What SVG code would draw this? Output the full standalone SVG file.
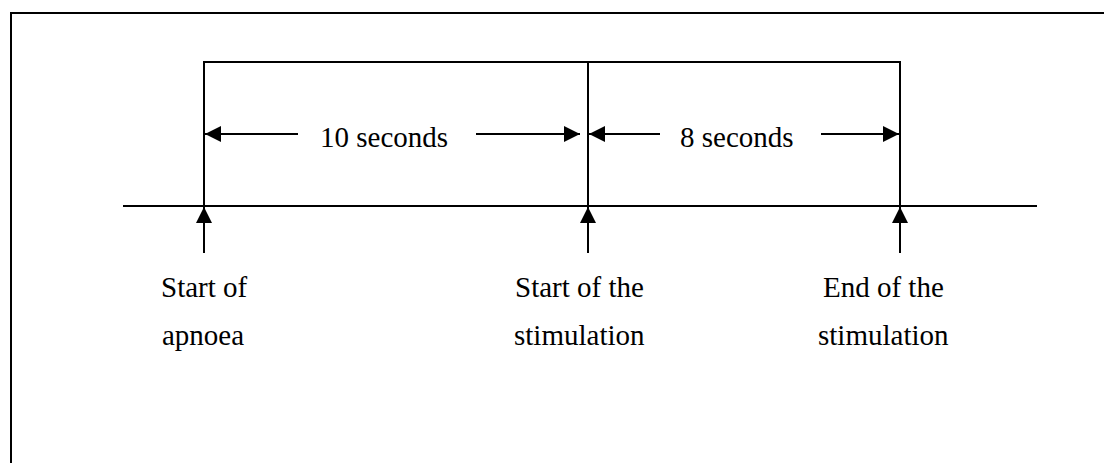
<svg xmlns="http://www.w3.org/2000/svg" width="1104" height="463" viewBox="0 0 1104 463">
  <style>
    .ln { stroke: #000; stroke-width: 2; fill: none; }
    .lbl { font-family: "Liberation Serif", "Times New Roman", serif; font-size: 29px; fill: #000; }
  </style>
  <defs>
    <marker id="head" viewBox="0 0 16 16" refX="16" refY="8" markerWidth="16" markerHeight="16" markerUnits="userSpaceOnUse" orient="auto">
      <path d="M0,0 L16,8 L0,16 Z" fill="#000"/>
    </marker>
  </defs>
  <rect width="1104" height="463" fill="#fff"/>
  <!-- frame, open to the right and bottom -->
  <path class="ln" d="M11,470 L11,13 L1110,13"/>

  <g id="timeline">
    <line class="ln" x1="123" y1="206" x2="1037" y2="206"/>
  </g>

  <g id="interval-box">
    <path class="ln" d="M204,206 L204,62 L900,62 L900,206"/>
    <line class="ln" x1="588" y1="62" x2="588" y2="206"/>
  </g>

  <g id="connectors">
    <!-- 10 second span -->
    <line class="ln" x1="298" y1="134" x2="205" y2="134" marker-end="url(#head)"/>
    <line class="ln" x1="476" y1="134" x2="580" y2="134" marker-end="url(#head)"/>
    <!-- 8 second span -->
    <line class="ln" x1="660" y1="134" x2="589" y2="134" marker-end="url(#head)"/>
    <line class="ln" x1="821" y1="134" x2="899" y2="134" marker-end="url(#head)"/>
    <!-- event markers -->
    <line class="ln" x1="204" y1="253" x2="204" y2="207" marker-end="url(#head)"/>
    <line class="ln" x1="588" y1="253" x2="588" y2="207" marker-end="url(#head)"/>
    <line class="ln" x1="900" y1="253" x2="900" y2="207" marker-end="url(#head)"/>
  </g>

  <g id="label-10s"><text class="lbl" x="320" y="147">10 seconds</text></g>
  <g id="label-8s"><text class="lbl" x="680" y="147">8 seconds</text></g>

  <g id="event-apnoea">
    <text class="lbl" x="161" y="297">Start of</text>
    <text class="lbl" x="162" y="345">apnoea</text>
  </g>
  <g id="event-stim-start">
    <text class="lbl" x="515" y="297">Start of the</text>
    <text class="lbl" x="514" y="345">stimulation</text>
  </g>
  <g id="event-stim-end">
    <text class="lbl" x="823" y="297">End of the</text>
    <text class="lbl" x="818" y="345">stimulation</text>
  </g>
</svg>
